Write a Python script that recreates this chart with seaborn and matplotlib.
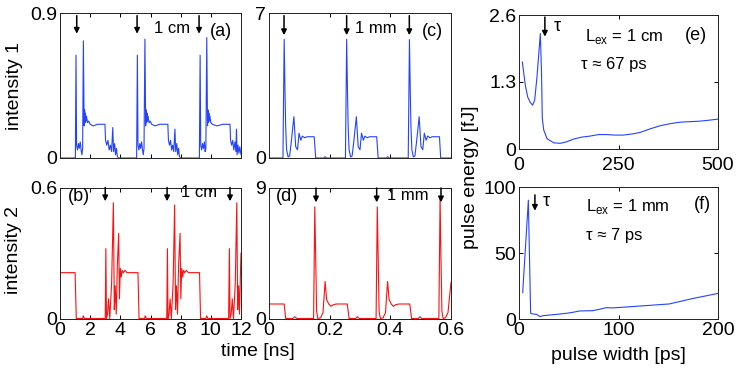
import numpy as np
import matplotlib
matplotlib.use("Agg")
import matplotlib.pyplot as plt
import seaborn as sns

# ── data ─────────────────────────────────────────────────
# (a) intensity 1, L = 1 cm  (time in ns)
t_a = [0.00, 1.02, 1.06, 1.10, 1.16, 1.22, 1.28, 1.34, 1.40, 1.45, 1.50, 1.55, 1.60,
       1.63, 1.66, 1.69, 1.72, 1.76, 1.82, 1.90, 2.00, 2.20, 2.50, 2.98, 3.02, 3.10,
       3.18, 3.26, 3.34, 3.42, 3.50, 3.55, 3.62, 3.68, 3.74, 3.80, 3.88, 5.08,
       5.13, 5.17, 5.23, 5.29, 5.35, 5.41, 5.47, 5.52, 5.57, 5.63, 5.68, 5.71, 5.74,
       5.77, 5.80, 5.84, 5.90, 5.98, 6.08, 6.30, 6.60, 7.15, 7.19, 7.26, 7.33, 7.40,
       7.47, 7.54, 7.62, 7.67, 7.74, 7.80, 7.86, 7.92, 7.98, 9.24,
       9.29, 9.33, 9.39, 9.45, 9.51, 9.57, 9.62, 9.67, 9.73, 9.78, 9.81, 9.84, 9.87,
       9.90, 9.94, 10.00, 10.10, 10.40, 10.80, 11.27, 11.31, 11.38, 11.45, 11.52,
       11.60, 11.66, 11.70, 11.74, 11.80, 11.86, 11.92, 12.00]
i1_cm = [0.00, 0.00, 0.64, 0.08, 0.05, 0.09, 0.06, 0.10, 0.05, 0.02, 0.06, 0.73, 0.20,
         0.30, 0.22, 0.28, 0.23, 0.26, 0.22, 0.23, 0.21, 0.20, 0.21, 0.21, 0.11, 0.08,
         0.11, 0.05, 0.08, 0.04, 0.19, 0.04, 0.09, 0.02, 0.06, 0.01, 0.00, 0.00,
         0.64, 0.08, 0.05, 0.09, 0.06, 0.10, 0.05, 0.02, 0.06, 0.74, 0.20, 0.30, 0.22,
         0.28, 0.23, 0.26, 0.22, 0.23, 0.21, 0.20, 0.21, 0.21, 0.11, 0.08, 0.11, 0.05,
         0.08, 0.04, 0.18, 0.04, 0.09, 0.02, 0.06, 0.01, 0.00, 0.00,
         0.64, 0.08, 0.05, 0.09, 0.06, 0.10, 0.04, 0.06, 0.75, 0.20, 0.30, 0.22, 0.28,
         0.23, 0.26, 0.22, 0.21, 0.20, 0.21, 0.21, 0.11, 0.08, 0.11, 0.05,
         0.10, 0.04, 0.18, 0.02, 0.08, 0.03, 0.07, 0.02]

# (b) intensity 2, L = 1 cm
t_b = [0.00, 1.00, 1.08, 1.50, 1.55, 1.62, 3.00, 3.04, 3.08, 3.15, 3.22, 3.30, 3.42,
       3.54, 3.60, 3.66, 3.73, 3.80, 3.89, 3.94, 4.00, 4.06, 4.12, 4.20, 4.30, 4.45,
       5.17, 5.24, 5.60, 5.65, 5.72, 7.08, 7.12, 7.16, 7.23, 7.30, 7.38, 7.50, 7.60,
       7.66, 7.72, 7.79, 7.86, 7.96, 8.01, 8.07, 8.13, 8.19, 8.27, 8.37, 8.52, 9.25,
       9.32, 9.68, 9.73, 9.80, 11.18, 11.23, 11.27, 11.35, 11.42, 11.50, 11.62, 11.72,
       11.78, 11.84, 11.90, 11.96, 12.00]
i2_cm = [0.21, 0.21, 0.00, 0.00, 0.012, 0.00, 0.00, 0.32, 0.00, 0.02, 0.09, 0.00, 0.16,
         0.53, 0.04, 0.15, 0.02, 0.24, 0.39, 0.09, 0.23, 0.19, 0.22, 0.21, 0.22, 0.21,
         0.21, 0.00, 0.00, 0.012, 0.00, 0.00, 0.32, 0.00, 0.02, 0.09, 0.00, 0.16, 0.52,
         0.04, 0.15, 0.02, 0.24, 0.39, 0.09, 0.23, 0.19, 0.22, 0.21, 0.22, 0.21, 0.21,
         0.00, 0.00, 0.012, 0.00, 0.00, 0.32, 0.00, 0.02, 0.09, 0.00, 0.16, 0.53,
         0.04, 0.15, 0.02, 0.20, 0.30]

# (c) intensity 1, L = 1 mm
t_c = [0.000, 0.046, 0.050, 0.053, 0.055, 0.058, 0.063, 0.068, 0.074, 0.082, 0.088,
       0.094, 0.099, 0.105, 0.110, 0.118, 0.125, 0.149, 0.154, 0.180, 0.185, 0.190,
       0.252, 0.256, 0.259, 0.261, 0.264, 0.269, 0.274, 0.280, 0.288, 0.294, 0.300,
       0.305, 0.311, 0.316, 0.324, 0.331, 0.355, 0.360, 0.386, 0.391, 0.396,
       0.459, 0.463, 0.466, 0.468, 0.471, 0.476, 0.481, 0.487, 0.495, 0.501, 0.507,
       0.512, 0.518, 0.523, 0.531, 0.538, 0.562, 0.566, 0.600]
i1_mm = [0.0, 0.0, 5.75, 3.0, 1.5, 0.4, 0.05, 0.1, 0.86, 2.0, 0.55,
         0.4, 1.2, 0.86, 1.06, 0.98, 1.03, 1.03, 0.0, 0.0, 0.06, 0.0,
         0.0, 5.75, 3.0, 1.5, 0.4, 0.05, 0.1, 0.86, 2.0, 0.55, 0.4,
         1.2, 0.86, 1.06, 0.98, 1.03, 1.03, 0.0, 0.0, 0.06, 0.0,
         0.0, 5.74, 3.0, 1.5, 0.4, 0.05, 0.1, 0.86, 2.0, 0.55, 0.4,
         1.2, 0.86, 1.06, 0.98, 1.03, 1.03, 0.0, 0.0]

# (d) intensity 2, L = 1 mm
t_d = [0.000, 0.050, 0.055, 0.078, 0.085, 0.092, 0.147, 0.151, 0.154, 0.157, 0.161,
       0.170, 0.178, 0.185, 0.190, 0.197, 0.204, 0.212, 0.222, 0.258, 0.264, 0.286,
       0.291, 0.298, 0.353, 0.357, 0.360, 0.363, 0.367, 0.376, 0.384, 0.391, 0.396,
       0.403, 0.410, 0.418, 0.428, 0.464, 0.470, 0.492, 0.497, 0.504, 0.560, 0.564,
       0.567, 0.570, 0.574, 0.582, 0.590, 0.600]
i2_mm = [1.0, 1.0, 0.0, 0.0, 0.12, 0.0, 0.0, 7.7, 4.1, 0.5, 0.0,
         0.05, 0.4, 2.55, 1.3, 1.0, 0.84, 0.95, 1.0, 1.0, 0.0, 0.0,
         0.12, 0.0, 0.0, 7.7, 4.1, 0.5, 0.0, 0.05, 0.4, 2.55, 1.3,
         1.0, 0.84, 0.95, 1.0, 1.0, 0.0, 0.0, 0.12, 0.0, 0.0, 8.3,
         4.1, 0.5, 0.0, 0.05, 0.4, 2.5]

# (e) pulse energy vs width, L = 1 cm
w_e = [8.3, 15.9, 21.8, 28.5, 34.3, 39.4, 45.2, 51.1, 53.6, 56.5, 58.5, 62.1, 70.5,
       87.3, 104, 120, 136, 157, 178, 200, 220, 241, 262, 283, 304, 329, 354, 379,
       404, 429, 454, 479, 500]
en_e = [1.69, 1.24, 1.01, 0.90, 0.85, 0.95, 1.40, 1.99, 2.24, 1.50, 0.60, 0.37, 0.20,
        0.12, 0.11, 0.14, 0.19, 0.23, 0.25, 0.28, 0.28, 0.27, 0.27, 0.29, 0.32, 0.39,
        0.45, 0.49, 0.52, 0.53, 0.54, 0.56, 0.58]

# (f) pulse energy vs width, L = 1 mm
w_f = [3.7, 9.4, 11.7, 14, 17.7, 21, 24, 27.6, 35, 47.7, 55, 61, 74, 80, 87.7, 94,
       110, 121, 140, 151, 174, 200]
en_f = [19.9, 90, 4.3, 3.8, 3.5, 1.8, 2.5, 2.8, 3.3, 4.3, 5.2, 6.1, 6.3, 7.2, 8.6, 8.4,
        9.2, 9.8, 10.8, 11.4, 15.4, 19.4]

arrows_a = [1.11, 5.11, 9.22]
arrows_b = [3.0, 7.1, 11.27]
arrows_c = [0.0495, 0.256, 0.4626]
arrows_d = [0.155, 0.355, 0.567]

# ── style ─────────────────────────────────────────────────
sns.set_theme(style="white")
plt.rcParams["font.family"] = ["Liberation Sans", "DejaVu Sans"]
plt.rcParams["mathtext.fontset"] = "custom"
plt.rcParams["mathtext.rm"] = "Liberation Sans"
plt.rcParams["text.color"] = "black"
plt.rcParams["axes.labelcolor"] = "black"
plt.rcParams["xtick.color"] = "black"
plt.rcParams["ytick.color"] = "black"

BLUE = "#2443ff"
RED = "#ff1010"
W, H = 747, 373


def px_axes(fig, left, top, right, bottom):
    return fig.add_axes([left / W, (H - bottom) / H, (right - left) / W, (bottom - top) / H])


def style_ax(ax, xlim, ylim, xticks, yticks, xlabels=True, xpad=2.5):
    ax.set_xlim(*xlim)
    ax.set_ylim(*ylim)
    ax.set_xticks(xticks)
    ax.set_yticks(yticks)
    ax.set_yticklabels([f"{v:g}" for v in yticks])
    if xlabels:
        ax.set_xticklabels([f"{v:g}" for v in xticks])
    else:
        ax.set_xticklabels([])
    ax.tick_params(axis="both", direction="in", length=3, width=0.7, colors="black",
                   labelsize=14, top=True, right=True, bottom=True, left=True)
    ax.tick_params(axis="x", pad=xpad)
    ax.tick_params(axis="y", pad=2)
    for s in ax.spines.values():
        s.set_color("#222222")
        s.set_linewidth(0.7)
    ax.set_xlabel("")
    ax.set_ylabel("")


def down_arrows(ax, xs, y0, y1):
    for x in xs:
        ax.annotate("", xy=(x, y1), xytext=(x, y0),
                    xycoords=("data", "axes fraction"), textcoords=("data", "axes fraction"),
                    arrowprops=dict(arrowstyle="-|>", color="black", lw=1.1,
                                    mutation_scale=8, shrinkA=0, shrinkB=0))


fig = plt.figure(figsize=(W / 100, H / 100), dpi=100)
fig.patch.set_facecolor("white")

ax_a = px_axes(fig, 60, 13.5, 241, 158)
ax_b = px_axes(fig, 60, 187.5, 241, 318.5)
ax_c = px_axes(fig, 269, 13.5, 451, 158)
ax_d = px_axes(fig, 269, 188, 451, 318.5)
ax_e = px_axes(fig, 519, 15, 718, 149)
ax_f = px_axes(fig, 519, 187, 718, 319)

lw = 0.8
sns.lineplot(x=t_a, y=i1_cm, ax=ax_a, color=BLUE, lw=lw, estimator=None, sort=False)
sns.lineplot(x=t_b, y=i2_cm, ax=ax_b, color=RED, lw=lw, estimator=None, sort=False)
sns.lineplot(x=t_c, y=i1_mm, ax=ax_c, color=BLUE, lw=lw, estimator=None, sort=False)
sns.lineplot(x=t_d, y=i2_mm, ax=ax_d, color=RED, lw=lw, estimator=None, sort=False)
sns.lineplot(x=w_e, y=en_e, ax=ax_e, color=BLUE, lw=lw, estimator=None, sort=False)
sns.lineplot(x=w_f, y=en_f, ax=ax_f, color=BLUE, lw=lw, estimator=None, sort=False)

style_ax(ax_a, (0, 12), (0, 0.9), [0, 2, 4, 6, 8, 10, 12], [0, 0.9], xlabels=False)
style_ax(ax_b, (0, 12), (0, 0.6), [0, 2, 4, 6, 8, 10, 12], [0, 0.6])
style_ax(ax_c, (0, 0.6), (0, 7), [0, 0.2, 0.4, 0.6], [0, 7], xlabels=False)
style_ax(ax_d, (0, 0.6), (0, 9), [0, 0.2, 0.4, 0.6], [0, 9])
style_ax(ax_e, (0, 500), (0, 2.6), [0, 250, 500], [0, 1.3, 2.6], xpad=6)
style_ax(ax_f, (0, 200), (0, 100), [0, 100, 200], [0, 50, 100])

# arrows marking the pulses
down_arrows(ax_a, arrows_a, 0.985, 0.86)
down_arrows(ax_b, arrows_b, 1.0, 0.895)
down_arrows(ax_c, arrows_c, 0.985, 0.85)
down_arrows(ax_d, arrows_d, 1.0, 0.89)
ax_e.annotate("", xy=(65, 2.18), xytext=(65, 2.56),
              arrowprops=dict(arrowstyle="-|>", color="black", lw=1.1,
                              mutation_scale=8, shrinkA=0, shrinkB=0))
ax_f.annotate("", xy=(16, 82), xytext=(16, 94),
              arrowprops=dict(arrowstyle="-|>", color="black", lw=1.1,
                              mutation_scale=8, shrinkA=0, shrinkB=0))

# panel texts
ax_a.text(7.4, 0.895, "1 cm", transform=ax_a.get_xaxis_transform(), ha="center", va="center", fontsize=12)
ax_a.text(10.65, 0.875, "(a)", transform=ax_a.get_xaxis_transform(), ha="center", va="center", fontsize=13)
ax_b.text(9.25, 0.965, "1 cm", transform=ax_b.get_xaxis_transform(), ha="center", va="center", fontsize=12)
ax_b.text(1.27, 0.935, "(b)", transform=ax_b.get_xaxis_transform(), ha="center", va="center", fontsize=13)
ax_c.text(0.353, 0.895, "1 mm", transform=ax_c.get_xaxis_transform(), ha="center", va="center", fontsize=12)
ax_c.text(0.540, 0.875, "(c)", transform=ax_c.get_xaxis_transform(), ha="center", va="center", fontsize=13)
ax_d.text(0.457, 0.94, "1 mm", transform=ax_d.get_xaxis_transform(), ha="center", va="center", fontsize=12)
ax_d.text(0.058, 0.935, "(d)", transform=ax_d.get_xaxis_transform(), ha="center", va="center", fontsize=13)

ax_e.text(88, 2.37, "τ", ha="left", va="center", fontsize=13)
ax_e.text(165, 2.18, "L$_{\\mathregular{ex}}$ = 1 cm", ha="left", va="center", fontsize=12)
ax_e.text(157, 1.63, "τ ≈ 67 ps", ha="left", va="center", fontsize=12)
ax_e.text(444, 2.21, "(e)", ha="center", va="center", fontsize=13)
ax_f.text(24, 89, "τ", ha="left", va="center", fontsize=13)
ax_f.text(67, 85, "L$_{\\mathregular{ex}}$ = 1 mm", ha="left", va="center", fontsize=12)
ax_f.text(67, 63.5, "τ ≈ 7 ps", ha="left", va="center", fontsize=12)
ax_f.text(184, 86.5, "(f)", ha="center", va="center", fontsize=13)

# axis labels (placed in figure pixels)
fig.text(15 / W, 1 - 86 / H, "intensity 1", rotation=90, ha="center", va="center", fontsize=14)
fig.text(14 / W, 1 - 250 / H, "intensity 2", rotation=90, ha="center", va="center", fontsize=14)
fig.text(258 / W, 1 - 352 / H, "time [ns]", ha="center", va="center", fontsize=14)
fig.text(470 / W, 1 - 177 / H, "pulse energy [fJ]", rotation=90, ha="center", va="center", fontsize=14)
fig.text(618 / W, 1 - 355 / H, "pulse width [ps]", ha="center", va="center", fontsize=14)

fig.savefig("out.png", dpi=100, facecolor="white")
